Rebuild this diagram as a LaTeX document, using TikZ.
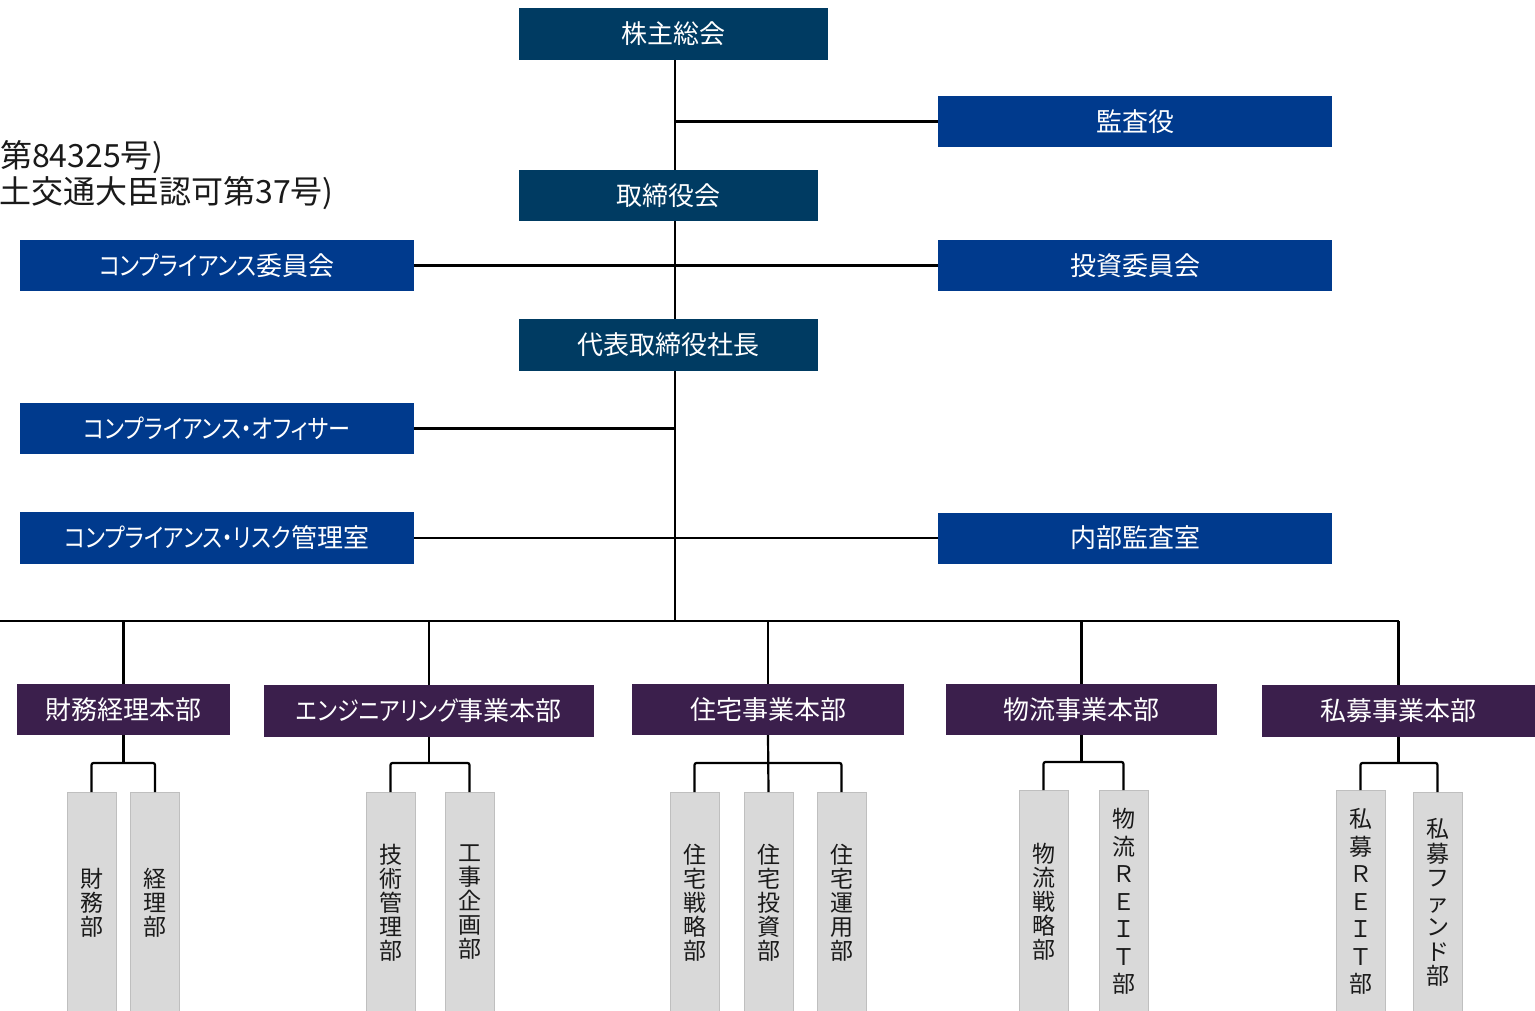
\documentclass[tikz,border=0pt]{standalone}
\usepackage{fontspec}
\setmainfont[RawFeature=+palt]{Noto Sans CJK JP}
\newfontfamily\vfont{Noto Sans CJK JP}
\newfontfamily\kana[RawFeature=+palt, FakeStretch=0.85]{Noto Sans CJK JP}
\definecolor{navyc}{HTML}{003B62}
\definecolor{bluec}{HTML}{003A8D}
\definecolor{purpc}{HTML}{3B1F4C}
\definecolor{grayc}{HTML}{D9D9D9}
\definecolor{grayb}{HTML}{BFBFBF}
\definecolor{textc}{HTML}{1A1A1A}
\tikzset{
  box/.style={rectangle, inner sep=0pt, text=white, font=\fontsize{26}{30}\selectfont},
  navybox/.style={box, fill=navyc},
  bluebox/.style={box, fill=bluec},
  purpbox/.style={box, fill=purpc},
  subbox/.style={rectangle, anchor=north, fill=grayc, draw=grayb, line width=0.8pt, inner sep=0pt,
    minimum width=49pt, minimum height=220pt, align=center, text=textc,
    font=\vfont\fontsize{23}{24}\selectfont},
  reit/.style={font=\vfont\fontsize{23}{27.5}\selectfont},
  conn/.style={line width=2.2pt, black},
  note/.style={anchor=base east, inner sep=0pt, text=textc, font=\vfont\fontsize{32}{36}\selectfont},
}
\begin{document}
\begin{tikzpicture}[x=1pt,y=-1pt]
\useasboundingbox (0,0) rectangle (1535,1010);

% top-left partial text
\node[note] (t1) at (164,167) {第84325号)};
\node[note] (t2) at (334,203) {土交通大臣認可第37号)};

% governance boxes
\node[navybox, minimum width=309pt, minimum height=52pt] (kabu) at (673.5,34) {株主総会};
\node[bluebox, minimum width=394pt, minimum height=51pt] (kansa) at (1135,121.5) {監査役};
\node[navybox, minimum width=299pt, minimum height=51pt] (tori) at (668.5,195.5) {取締役会};
\node[bluebox, minimum width=394pt, minimum height=51pt] (compi) at (217,265.5) {{\kana コンプライアンス}委員会};
\node[bluebox, minimum width=394pt, minimum height=51pt] (toshi) at (1135,265.5) {投資委員会};
\node[navybox, minimum width=299pt, minimum height=52pt] (ceo) at (668.5,345) {代表取締役社長};
\node[bluebox, minimum width=394pt, minimum height=51pt] (officer) at (217,428.5) {{\kana コンプライアンス・オフィサー}};
\node[bluebox, minimum width=394pt, minimum height=52pt] (risk) at (217,538) {{\kana コンプライアンス・リスク}管理室};
\node[bluebox, minimum width=394pt, minimum height=51pt] (naibu) at (1135,538) {内部監査室};

% divisions
\node[purpbox, minimum width=213pt, minimum height=51pt] (hq1) at (123.5,709.5) {財務経理本部};
\node[purpbox, minimum width=330pt, minimum height=52pt] (hq2) at (429,711) {{\kana エンジニアリング}事業本部};
\node[purpbox, minimum width=272pt, minimum height=51pt] (hq3) at (768,709.5) {住宅事業本部};
\node[purpbox, minimum width=271pt, minimum height=51pt] (hq4) at (1081.5,709.5) {物流事業本部};
\node[purpbox, minimum width=273pt, minimum height=52pt] (hq5) at (1398.5,711) {私募事業本部};

% departments
\node[subbox] (s11) at (91.5,792) {財\\務\\部};
\node[subbox] (s12) at (155,792) {経\\理\\部};
\node[subbox] (s21) at (390.5,792) {技\\術\\管\\理\\部};
\node[subbox] (s22) at (469.5,792) {工\\事\\企\\画\\部};
\node[subbox] (s31) at (694.5,792) {住\\宅\\戦\\略\\部};
\node[subbox] (s32) at (768.5,792) {住\\宅\\投\\資\\部};
\node[subbox] (s33) at (841.5,792) {住\\宅\\運\\用\\部};
\node[subbox, minimum height=222pt] (s41) at (1043.5,790) {物\\流\\戦\\略\\部};
\node[subbox, reit, minimum height=222pt] (s42) at (1123.5,790) {物\\流\\Ｒ\\Ｅ\\Ｉ\\Ｔ\\部};
\node[subbox, reit, minimum height=222pt] (s51) at (1360.5,790) {私\\募\\Ｒ\\Ｅ\\Ｉ\\Ｔ\\部};
\node[subbox, font=\vfont\fontsize{23}{24.5}\selectfont] (s52) at (1437.5,792) {私\\募\\フ\\ァ\\ン\\ド\\部};

% spine and bus
\coordinate (bus) at (675,621);
\coordinate (busL) at (0,621);
\coordinate (busR) at (1398.5,621);
\draw[conn] (kabu.south -| bus) -- (tori.north -| bus);
\draw[conn] (tori.south -| bus) -- (ceo.north -| bus);
\draw[conn] (ceo.south -| bus) -- (bus);
\draw[conn] (kansa.west) -- (kansa.west -| bus);
\draw[conn] (compi.east) -- (toshi.west);
\draw[conn] (officer.east) -- (officer.east -| bus);
\draw[conn] (risk.east) -- (naibu.west);
\draw[conn] (busL) -- (busR);
\foreach \h in {hq1,hq2,hq3,hq4,hq5} \draw[conn] (\h.north) -- (\h.north |- bus);

% department connectors
\coordinate (j1) at (123.5,763);
\coordinate (j2) at (429,763);
\coordinate (j3) at (768,763);
\coordinate (j4) at (1081.5,762);
\coordinate (j5) at (1398.5,763);
\draw[conn] (hq1.south) -- (j1);
\draw[conn, rounded corners=2pt] (s11.north) |- (j1) -| (s12.north);
\draw[conn] (hq2.south) -- (j2);
\draw[conn, rounded corners=2pt] (s21.north) |- (j2) -| (s22.north);
\draw[conn] (hq3.south) -- (s32.north);
\draw[conn, rounded corners=2pt] (s31.north) |- (j3) -| (s33.north);
\draw[conn] (hq4.south) -- (j4);
\draw[conn, rounded corners=2pt] (s41.north) |- (j4) -| (s42.north);
\draw[conn] (hq5.south) -- (j5);
\draw[conn, rounded corners=2pt] (s51.north) |- (j5) -| (s52.north);
\end{tikzpicture}
\end{document}
